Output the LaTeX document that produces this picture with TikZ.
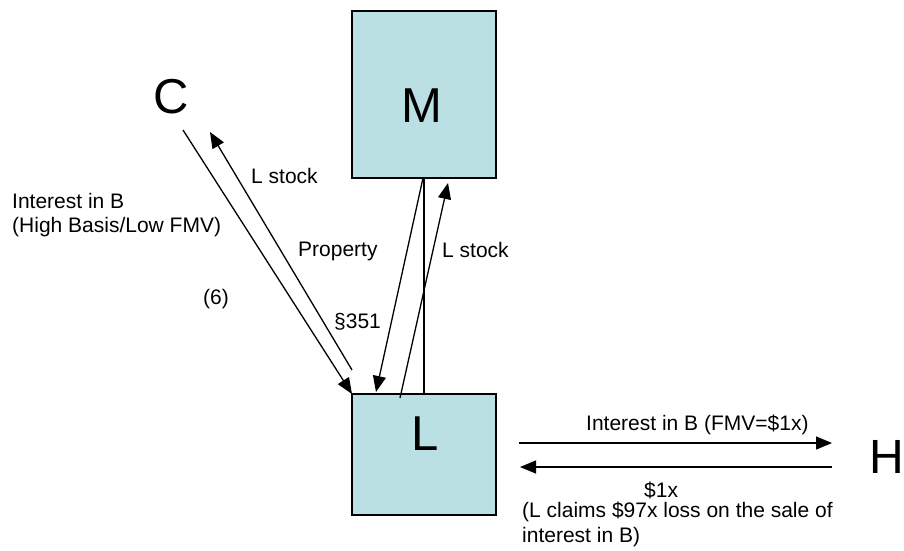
\documentclass[tikz,border=0pt]{standalone}
\usepackage{fontspec}
\setmainfont{Liberation Sans}
\usetikzlibrary{arrows.meta}
\definecolor{boxfill}{RGB}{187,224,227}
\begin{document}
\begin{tikzpicture}[x=1pt,y=-1pt,
  box/.style={draw=black, line width=1.6pt, fill=boxfill, inner sep=0pt, rectangle, outer sep=0pt},
  conn/.style={line width=1.3pt},
  arr/.style={conn, -{Triangle[length=16pt,width=13pt]}},
  big/.style={font=\fontsize{49}{49}\selectfont, inner sep=0pt, anchor=base west},
  lbl/.style={font=\fontsize{21}{24}\selectfont, inner sep=0pt, anchor=base west}]
\useasboundingbox (0,0) rectangle (904,550);
% boxes
\node[box, minimum width=144pt, minimum height=167pt, anchor=north west] (M) at (352,11) {};
\node[box, minimum width=144pt, minimum height=121pt, anchor=north west] (L) at (352,394) {};
% big letters
\node[big] (Ct) at (153,113) {C};
\node[big] (Mt) at (401,122) {M};
\node[big] (Lt) at (411,450) {L};
\node[big, font=\fontsize{48}{48}\selectfont] (Ht) at (869,473) {H};
% endpoints
\coordinate (c1) at (183,130);
\coordinate (c2) at (352,370);
\coordinate (c3) at (210,132);
\coordinate (p1) at (423,178);
\coordinate (p2) at (376,392);
\coordinate (s1) at (400,398);
\coordinate (s2) at (448,183);
\coordinate (h1) at (519,443);
\coordinate (h2) at (832,443);
\coordinate (h3) at (832,467);
\coordinate (h4) at (520,467);
% connectors
\draw[arr] (c1) -- (L.north west);
\draw[arr] (c2) -- (c3);
\draw[arr] (p1) -- (p2);
\draw[arr] (s1) -- (s2);
\draw[conn] (M.south) -- (L.north);
\draw[arr] (h1) -- (h2);
\draw[arr] (h3) -- (h4);
% labels
\node[lbl] (t1) at (12,208) {Interest in B};
\node[lbl] (t2) at (12,232) {(High Basis/Low FMV)};
\node[lbl] (t3) at (203,304) {(6)};
\node[lbl] (t4) at (251,183) {L stock};
\node[lbl] (t5) at (298,256) {Property};
\node[lbl] (t6) at (334,328) {\S351};
\node[lbl] (t7) at (442,257) {L stock};
\node[lbl] (t8) at (586,430) {Interest in B (FMV=\$1x)};
\node[lbl] (t9) at (644,497) {\$1x};
\node[lbl] (t10) at (522,517) {(L claims \$97x loss on the sale of};
\node[lbl] (t11) at (522,542) {interest in B)};
\end{tikzpicture}
\end{document}
